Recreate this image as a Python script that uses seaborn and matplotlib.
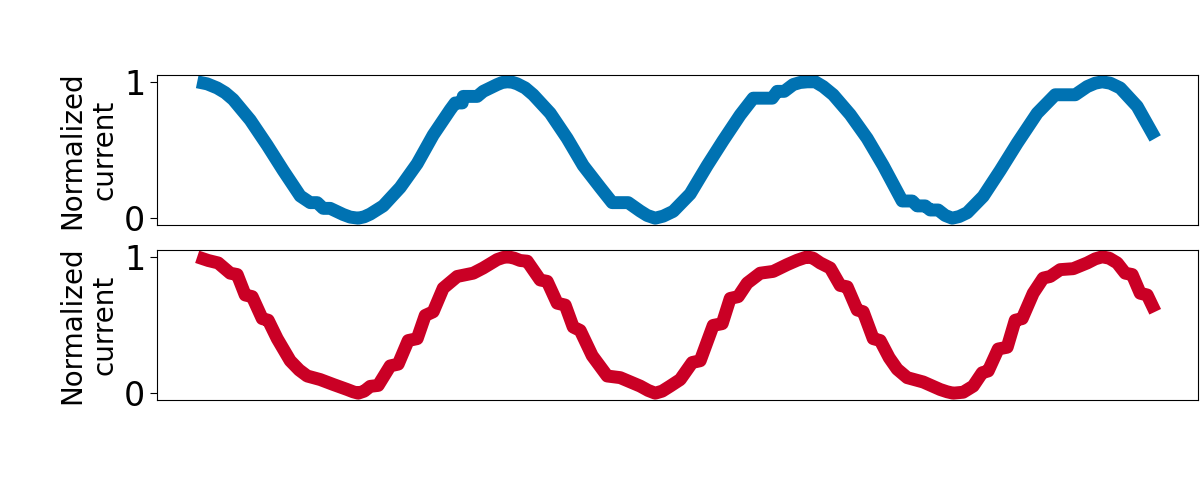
import numpy as np
import matplotlib
matplotlib.use("Agg")
import matplotlib.pyplot as plt
import seaborn as sns

# time steps (a.u.) and normalized currents
t_blue = [0, 10, 20, 28, 36, 53, 70, 86, 103, 113, 120, 126, 133, 146, 153, 161,
          167, 173, 186, 203, 220, 236, 253, 258, 265, 266, 280, 286, 300, 305, 310,
          315, 320, 328, 336, 353, 370, 386, 403, 415, 431, 443, 450, 458, 466, 476,
          493, 510, 526, 543, 556, 575, 580, 587, 596, 603, 610, 618, 626, 636, 653,
          670, 686, 705, 715, 720, 728, 733, 741, 748, 755, 762, 770, 786, 803, 820,
          840, 858, 878, 890, 898, 905, 913, 923, 940, 958]
i_blue = [1.0, 0.985, 0.955, 0.92, 0.87, 0.72, 0.535, 0.35, 0.163, 0.114, 0.114,
          0.072, 0.072, 0.027, 0.008, 0.0, 0.01, 0.03, 0.09, 0.225, 0.40, 0.61,
          0.795, 0.845, 0.845, 0.893, 0.893, 0.93, 0.98, 0.995, 1.0, 0.997, 0.985,
          0.955, 0.905, 0.77, 0.585, 0.386, 0.225, 0.114, 0.114, 0.052, 0.02, 0.0,
          0.015, 0.05, 0.178, 0.386, 0.57, 0.757, 0.88, 0.88, 0.93, 0.93, 0.98,
          0.995, 1.0, 1.0, 0.965, 0.905, 0.76, 0.585, 0.386, 0.126, 0.126, 0.09,
          0.09, 0.06, 0.06, 0.02, 0.0, 0.012, 0.04, 0.16, 0.35, 0.55, 0.77, 0.905,
          0.905, 0.965, 0.99, 1.0, 0.99, 0.955, 0.82, 0.585]

t_red = [0, 11, 21, 33, 40, 48, 55, 65, 71, 80, 93, 102, 110, 123, 136, 150, 156,
         161, 167, 173, 181, 193, 201, 211, 220, 228, 236, 246, 260, 276, 286, 300,
         306, 311, 317, 323, 330, 343, 350, 360, 368, 376, 383, 395, 410, 423, 443,
         451, 458, 465, 473, 483, 495, 503, 516, 525, 533, 541, 550, 563, 576, 590,
         600, 610, 616, 623, 633, 643, 650, 660, 666, 676, 683, 692, 700, 710, 726,
         743, 750, 756, 766, 776, 785, 791, 801, 810, 818, 825, 836, 846, 853, 863,
         876, 890, 898, 905, 912, 920, 928, 935, 943, 950, 958]
i_red = [1.0, 0.973, 0.955, 0.88, 0.87, 0.72, 0.708, 0.547, 0.535, 0.40, 0.238,
         0.17, 0.126, 0.10, 0.064, 0.027, 0.01, 0.0, 0.015, 0.05, 0.057, 0.20, 0.213,
         0.386, 0.40, 0.57, 0.597, 0.77, 0.856, 0.88, 0.918, 0.98, 0.995, 1.0,
         0.99, 0.973, 0.968, 0.83, 0.82, 0.66, 0.646, 0.485, 0.46, 0.275, 0.126,
         0.114, 0.052, 0.02, 0.0, 0.015, 0.052, 0.10, 0.225, 0.238, 0.497, 0.51,
         0.695, 0.708, 0.807, 0.88, 0.893, 0.943, 0.975, 1.0, 0.99, 0.955, 0.918,
         0.79, 0.78, 0.61, 0.597, 0.40, 0.386, 0.26, 0.176, 0.114, 0.082, 0.027,
         0.01, 0.0, 0.007, 0.052, 0.15, 0.163, 0.324, 0.337, 0.535, 0.547, 0.733,
         0.844, 0.856, 0.906, 0.913, 0.955, 0.985, 1.0, 0.99, 0.955, 0.88, 0.87,
         0.733, 0.72, 0.597]

yticks = [0, 1]
ylabel = "Normalized\ncurrent"

fig = plt.figure(figsize=(12, 5), dpi=100)
ax1 = fig.add_axes([0.131, 0.55, 0.8675, 0.30])
ax2 = fig.add_axes([0.131, 0.20, 0.8675, 0.30])

series = [(ax1, t_blue, i_blue, "#0072B2"), (ax2, t_red, i_red, "#CA0025")]
for ax, t, cur, col in series:
    sns.lineplot(x=t, y=cur, ax=ax, color=col, linewidth=9.3,
                 solid_capstyle="butt", sort=False, estimator=None)
    ax.set_xlim(-40, 1001)
    ax.set_ylim(-0.05, 1.05)
    ax.set_xticks([])
    ax.set_yticks(yticks)
    ax.tick_params(axis="y", labelsize=24, length=5)
    ax.set_ylabel(ylabel, fontsize=20, labelpad=4)
    ax.set_xlabel("")

fig.savefig("out.png", dpi=100)
